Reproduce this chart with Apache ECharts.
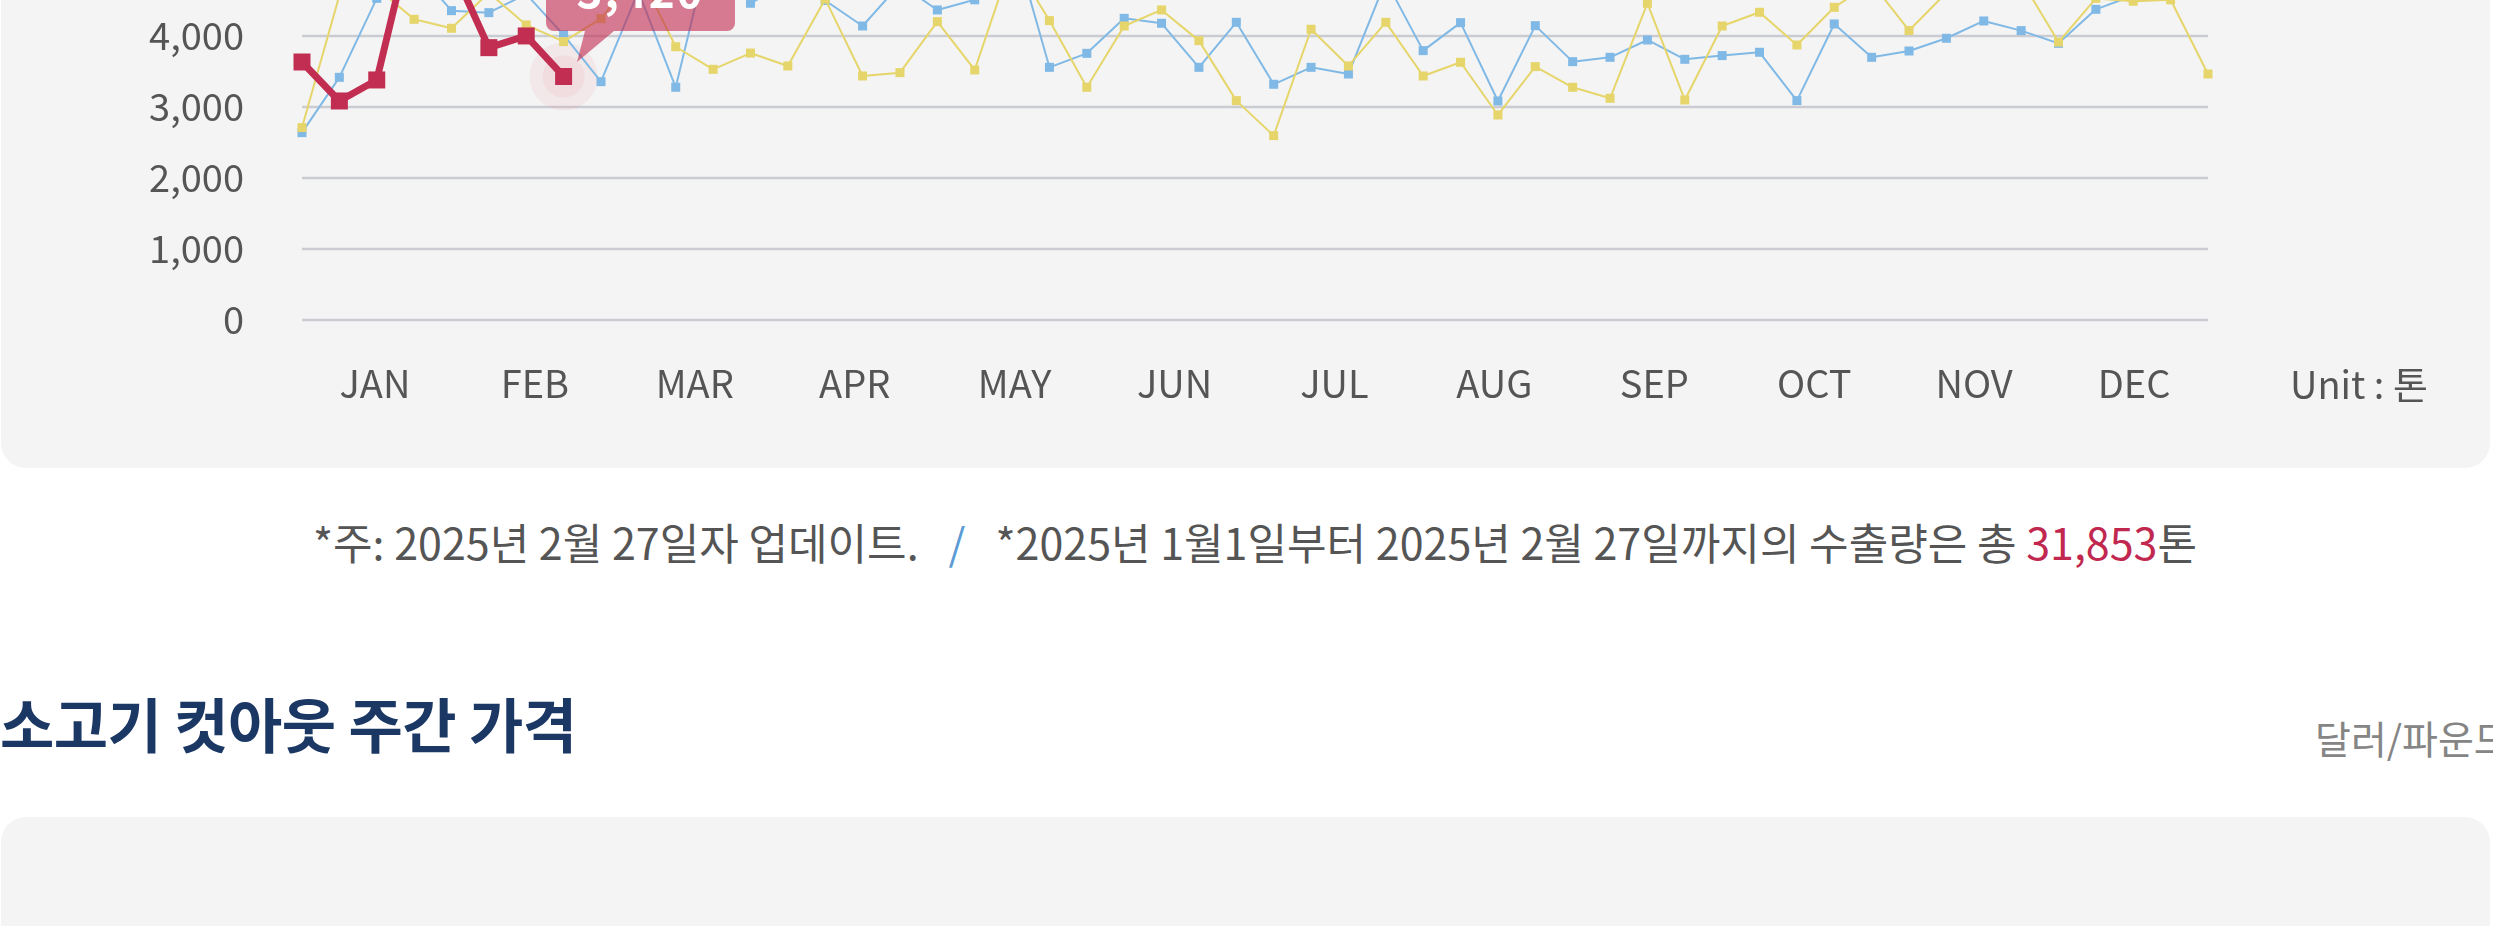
<!DOCTYPE html>
<html><head><meta charset="utf-8">
<script src="https://cdn.jsdelivr.net/npm/echarts@6/dist/echarts.min.js"></script>
<style>
html,body{margin:0;padding:0;background:#fff;width:2493px;height:926px;overflow:hidden;font-family:"Noto Sans CJK KR","Noto Sans",sans-serif;}
#card{position:absolute;left:1px;top:-300px;width:2489px;height:768px;background:#f3f4f3;border-radius:25px;}
#chart{position:absolute;left:0;top:0;width:2489px;height:768px;}
#note{position:absolute;left:0;top:520px;width:2510px;text-align:center;font-size:43px;line-height:43px;color:#555;white-space:nowrap;}
#note .sep{color:#5b9bd5;margin:0 30px;}
#note .total{color:#c1284f;}
#heading{position:absolute;left:0px;top:693px;font-size:59px;line-height:59px;font-weight:700;color:#1b3864;letter-spacing:-0.5px;white-space:nowrap;}
#unitR{position:absolute;left:2315px;top:718px;font-size:39px;line-height:39px;color:#858585;white-space:nowrap;}
#card2{position:absolute;left:1px;top:817px;width:2489px;height:300px;background:#f3f4f3;border-radius:25px;}
</style></head>
<body>
<div id="card"><div id="chart"></div></div>
<div id="note">*주: 2025년 2월 27일자 업데이트.<span class="sep">/</span>*2025년 1월1일부터 2025년 2월 27일까지의 수출량은 총 <span class="total">31,853</span>톤</div>
<div id="heading">소고기 컷아웃 주간 가격</div>
<div id="unitR">달러/파운드</div>
<div id="card2"></div>
<script>
const weeks = ['1','2','3','4','5','6','7','8','9','10','11','12','13','14','15','16','17','18','19','20','21','22','23','24','25','26',
  '27','28','29','30','31','32','33','34','35','36','37','38','39','40','41','42','43','44','45','46','47','48','49','50','51','52'];
const months = ['JAN','FEB','MAR','APR','MAY','JUN','JUL','AUG','SEP','OCT','NOV','DEC'];
const yTicks = [0,1000,2000,3000,4000,5000,6000,7000];
const unitLabel = 'Unit : 톤';

const series2023 = [2700,4560,4665,4225,4099,4600,4146,3911,4235,4900,3839,3521,3750,3568,4510,3427,3474,4192,3512,5070,
  4207,3268,4131,4357,3925,3080,2587,4085,3568,4183,3427,3620,2878,3559,3268,3113,4451,3089,4131,4324,
  3864,4394,4740,4068,4600,4900,4780,3905,4520,4480,4500,3455];
const series2024 = [2629,3408,4520,4950,4347,4319,4580,4005,3347,4620,3268,5455,4451,4750,4490,4131,4720,4357,4500,5400,
  3549,3746,4239,4169,3549,4183,3310,3549,3455,4770,3784,4178,3075,4136,3629,3690,3934,3662,3714,3761,
  3080,4160,3690,3779,3958,4202,4066,3887,4366,4560,4800,4950];
const series2025 = [3624,3075,3371,5560,4986,3826,3991,3420];

const fmt = v => Number(v).toLocaleString('en-US');
const FONT = '"Noto Sans CJK KR", "Noto Sans", sans-serif';
const RED = '#c22e52', BLUE = '#80b9e6', YELLOW = '#e6d56a';
const lastIdx = series2025.length - 1;
const halo = series2025.map((v, i) => i === lastIdx ? v : '-');

const chart = echarts.init(document.getElementById('chart'), null, {renderer: 'canvas'});
const option = {
  animation: false,
  textStyle: {fontFamily: FONT},
  title: {text: unitLabel, left: 2289, top: 665, padding: 0,
    textStyle: {fontSize: 38, lineHeight: 40, fontWeight: 'normal', color: '#555', fontFamily: FONT}},
  grid: [
    {left: 301, top: 122.3, width: 1906, height: 497},
    {left: 294, top: 122.3, width: 1919, height: 497}
  ],
  xAxis: [
    {type: 'category', gridIndex: 0, data: weeks, boundaryGap: false,
      axisLine: {show: false}, axisTick: {show: false}, axisLabel: {show: false}, splitLine: {show: false}},
    {type: 'category', gridIndex: 1, data: months, boundaryGap: true,
      axisLine: {show: false}, axisTick: {show: false}, splitLine: {show: false},
      axisLabel: {margin: 44, fontSize: 38, lineHeight: 40, color: '#555', fontFamily: FONT}}
  ],
  yAxis: [
    {type: 'value', gridIndex: 0, min: yTicks[0], max: yTicks[yTicks.length - 1], interval: 1000,
      axisLine: {show: false}, axisTick: {show: false},
      axisLabel: {margin: 58, fontSize: 38, color: '#555', fontFamily: FONT, formatter: v => fmt(v)},
      splitLine: {lineStyle: {color: '#cbccd1', width: 2.4}}},
    {type: 'value', gridIndex: 1, min: 0, max: 7000, show: false, splitLine: {show: false}}
  ],
  tooltip: {
    trigger: 'item', triggerOn: 'none', alwaysShowContent: true, transitionDuration: 0,
    backgroundColor: 'transparent', borderWidth: 0, padding: 0, extraCssText: 'box-shadow:none;',
    position: pt => [pt[0] - 18, pt[1] - 119],
    formatter: p => '<div style="position:relative;width:189px;height:74px;background:rgba(194,46,82,0.62);border-radius:8px;color:#fff;font-family:' + FONT.replace(/"/g, "'") + ';font-weight:700;font-size:44px;line-height:64px;text-align:center;letter-spacing:2px;">' + fmt(p.value) +
      '<div style="position:absolute;left:28px;top:74px;width:40px;height:31px;background:rgba(194,46,82,0.62);clip-path:polygon(11px 0,40px 0,3px 31px);"></div></div>'
  },
  series: [
    {name: '2024', type: 'line', xAxisIndex: 0, yAxisIndex: 0, data: series2024, symbol: 'rect', symbolSize: 9,
      showAllSymbol: true, lineStyle: {width: 2, color: BLUE}, itemStyle: {color: BLUE}, z: 2, silent: true},
    {name: '2023', type: 'line', xAxisIndex: 0, yAxisIndex: 0, data: series2023, symbol: 'rect', symbolSize: 9,
      showAllSymbol: true, lineStyle: {width: 2, color: YELLOW}, itemStyle: {color: YELLOW}, z: 3, silent: true},
    {name: '2025', type: 'line', xAxisIndex: 0, yAxisIndex: 0, data: series2025, symbol: 'rect', symbolSize: 17,
      showAllSymbol: true, lineStyle: {width: 7, color: RED}, itemStyle: {color: RED}, z: 5},
    {name: 'halo-outer', type: 'scatter', xAxisIndex: 0, yAxisIndex: 0, data: halo, symbol: 'circle', symbolSize: 68,
      itemStyle: {color: 'rgba(230,120,140,0.12)'}, z: 1, silent: true},
    {name: 'halo-inner', type: 'scatter', xAxisIndex: 0, yAxisIndex: 0, data: halo, symbol: 'circle', symbolSize: 42,
      itemStyle: {color: 'rgba(235,120,140,0.13)'}, z: 1, silent: true}
  ]
};
chart.setOption(option);
chart.dispatchAction({type: 'showTip', seriesIndex: 2, dataIndex: lastIdx});
setTimeout(() => chart.dispatchAction({type: 'showTip', seriesIndex: 2, dataIndex: lastIdx}), 50);
</script>
</body></html>
